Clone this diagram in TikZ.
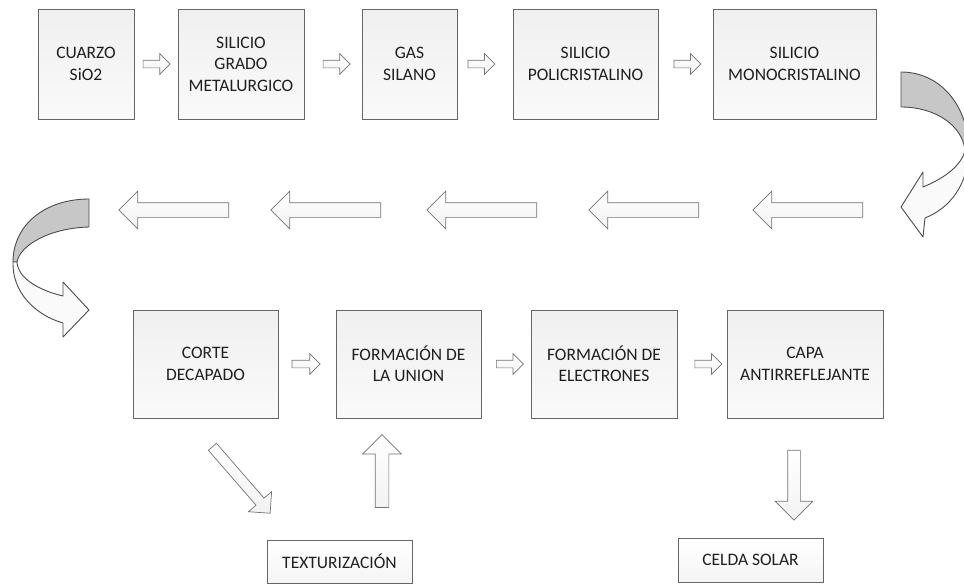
\documentclass[tikz,border=0pt]{standalone}
\usepackage{fontspec}
\setmainfont{Carlito}
\usetikzlibrary{shapes.arrows,calc}
\tikzset{
  box/.style={draw=black!60, line width=0.9pt, top color=black!6, bottom color=black!2,
    align=center, text=black!88, inner sep=0pt,
    font=\fontsize{17.5pt}{21.4pt}\selectfont},
  smallbox/.style={box, top color=white, bottom color=black!4},
  blk/.style n args={3}{single arrow, draw=black!55, line width=0.7pt,
    top color=white, bottom color=black!5, inner xsep=0pt, inner ysep=#1,
    single arrow head extend=#2, single arrow tip angle=90,
    single arrow head indent=0pt, minimum height=#3},
  curvline/.style={draw=black!70, line width=0.9pt, line join=round},
}
\begin{document}
\begin{tikzpicture}[x=1pt,y=-1pt]
\useasboundingbox (0,0) rectangle (964,584);
% top row
\node[box, minimum width=96pt, minimum height=110pt] (n1) at (86,64) {CUARZO\\SiO2};
\node[box, minimum width=126pt, minimum height=110pt] (n2) at (241,64) {SILICIO\\GRADO\\METALURGICO};
\node[box, minimum width=95pt, minimum height=110pt] (n3) at (409.5,64) {GAS\\SILANO};
\node[box, minimum width=145pt, minimum height=110pt] (n4) at (585.5,64) {SILICIO\\POLICRISTALINO};
\node[box, minimum width=163pt, minimum height=110pt] (n5) at (794.5,64) {SILICIO\\MONOCRISTALINO};
\node[blk={3.5pt}{6.5pt}{27pt}] (a12) at ($(n1.east)!0.47!(n2.west)$) {};
\node[blk={3.5pt}{6.5pt}{27pt}] (a23) at ($(n2.east)!0.53!(n3.west)$) {};
\node[blk={3.5pt}{6.5pt}{27pt}] (a34) at ($(n3.east)!0.40!(n4.west)$) {};
\node[blk={3.5pt}{6.5pt}{27pt}] (a45) at ($(n4.east)!0.5!(n5.west)$) {};
% middle row of left arrows
\node[blk={7pt}{11.5pt}{110pt}, rotate=180] (m1) at (811.5,210) {};
\node[blk={7pt}{11.5pt}{110pt}, rotate=180] (m2) at (647.5,210) {};
\node[blk={7pt}{11.5pt}{110pt}, rotate=180] (m3) at (485.5,210) {};
\node[blk={7pt}{11.5pt}{110pt}, rotate=180] (m4) at (329.5,210) {};
\node[blk={7pt}{11.5pt}{110pt}, rotate=180] (m5) at (177.5,210) {};
% right curved arrow
\path[curvline, fill=black!22] (901,72) .. controls (940,72) and (968,105) .. (969,150)
  -- (965,150) .. controls (962,125) and (935,107) .. (901,107) -- cycle;
\path[curvline, fill=black!2] (969,150) .. controls (968,185) and (950,208) .. (925,218)
  -- (923,237) -- (901,207) -- (923,172) -- (923,187)
  .. controls (945,178) and (962,165) .. (965,150) -- cycle;
% left curved arrow
\path[curvline, fill=black!22] (89,199) .. controls (45,199) and (13,225) .. (13,262)
  -- (17,262) .. controls (20,245) and (50,228) .. (89,227) -- cycle;
\path[curvline, fill=black!2] (13,262) .. controls (12,292) and (35,315) .. (63,323)
  -- (63,337) -- (89,310) -- (63,282) -- (63,296)
  .. controls (38,290) and (18,278) .. (17,262) -- cycle;
% bottom row
\node[box, minimum width=145pt, minimum height=108pt] (b1) at (205.5,364) {CORTE\\DECAPADO};
\node[box, minimum width=145pt, minimum height=108pt] (b2) at (408.5,364) {FORMACIÓN DE\\LA UNION};
\node[box, minimum width=146pt, minimum height=108pt] (b3) at (604,364) {FORMACIÓN DE\\ELECTRONES};
\node[box, minimum width=156pt, minimum height=108pt] (b4) at (805,364) {CAPA\\ANTIRREFLEJANTE};
\node[blk={3.5pt}{6.5pt}{28pt}] (c12) at ($(b1.east)!0.45!(b2.west)$) {};
\node[blk={3.5pt}{6.5pt}{27pt}] (c23) at ($(b2.east)!0.54!(b3.west)$) {};
\node[blk={3.5pt}{6.5pt}{27pt}] (c34) at ($(b3.east)!0.59!(b4.west)$) {};
% bottom small boxes
\node[smallbox, minimum width=145pt, minimum height=43pt] (t1) at (339.5,561.5) {TEXTURIZACIÓN};
\node[smallbox, minimum width=145pt, minimum height=44pt] (t2) at (750.5,560) {CELDA SOLAR};
\node[blk={5pt}{10pt}{88pt}, rotate=-49] (d1) at (239.5,478) {};
\node[blk={6.5pt}{12.5pt}{73pt}, rotate=90] (u1) at (382,474.5) {};
\node[blk={6pt}{12.5pt}{70pt}, rotate=-90] (w1) at (794,482) {};
\end{tikzpicture}
\end{document}
